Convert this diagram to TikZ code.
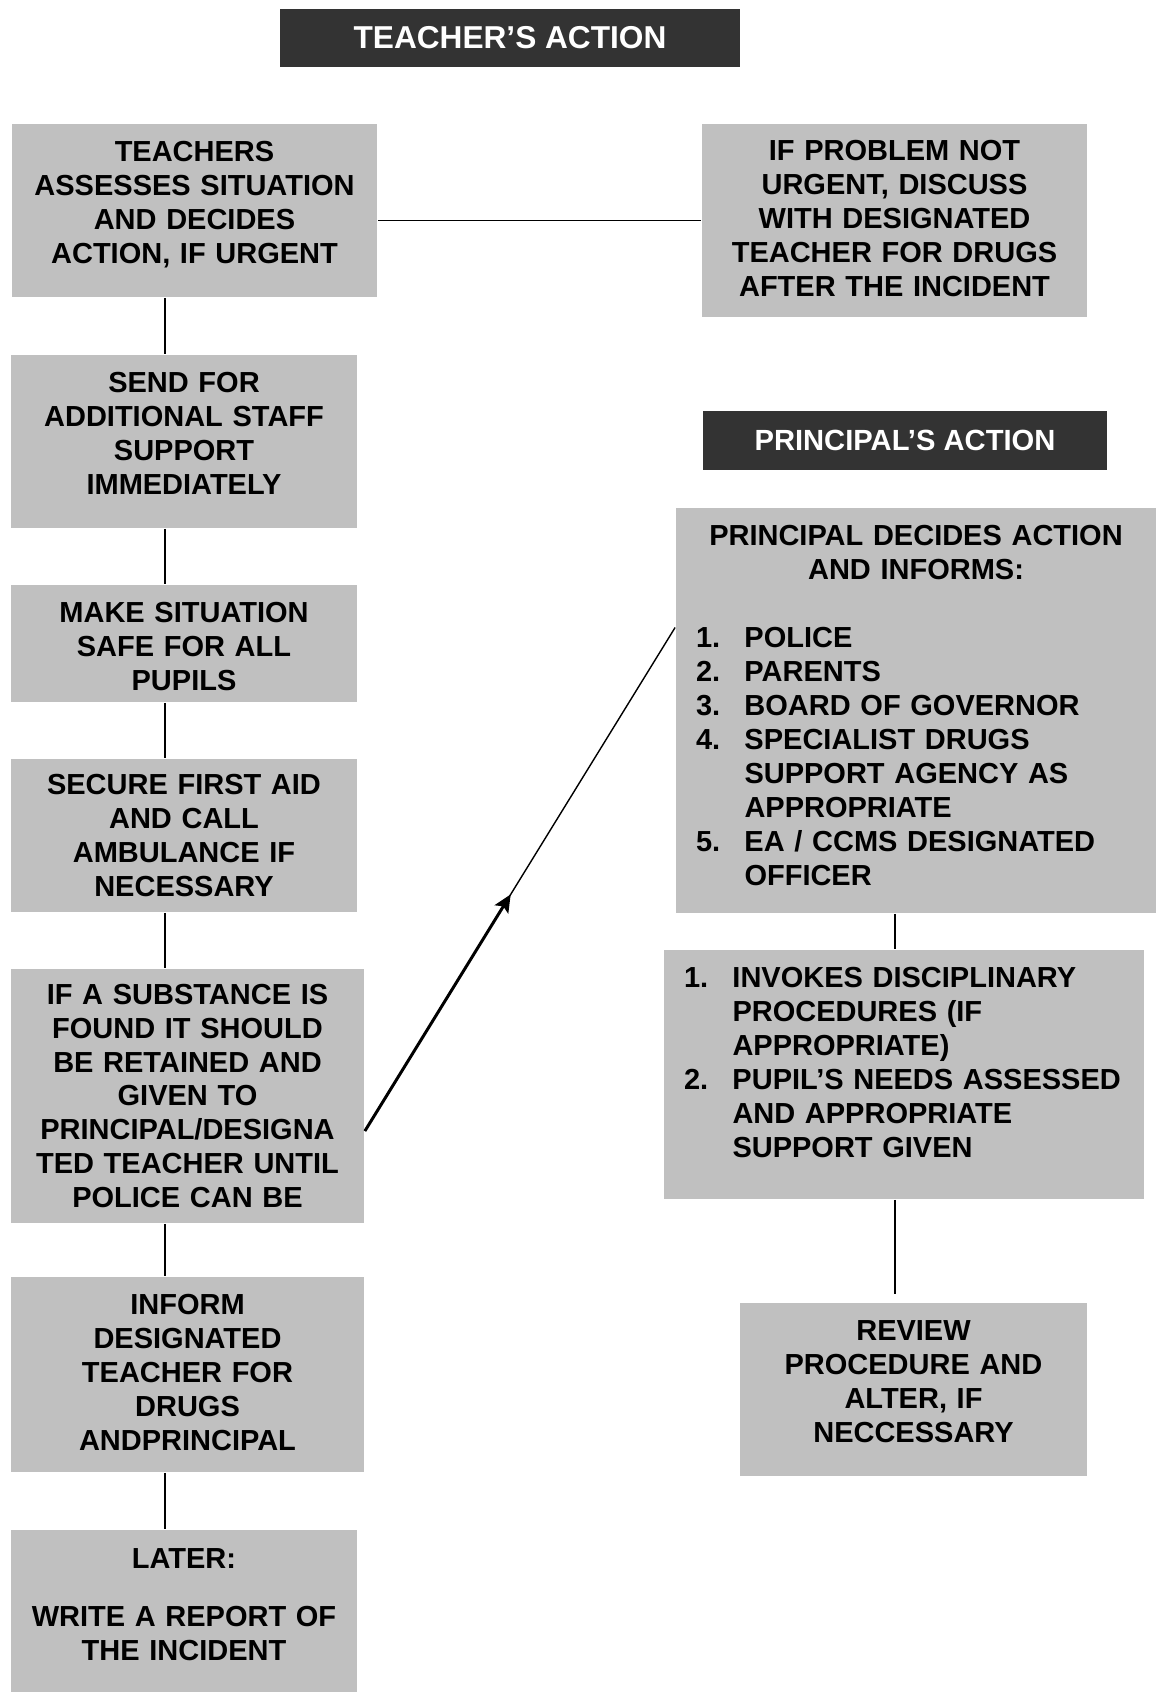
\documentclass[tikz,border=0pt]{standalone}
\usepackage{fontspec}
\setmainfont{Liberation Sans}
\usetikzlibrary{arrows.meta}
\definecolor{boxgray}{RGB}{192,192,192}
\definecolor{headdark}{RGB}{51,51,51}
\begin{document}
\begin{tikzpicture}[>={Stealth[length=10pt,width=9pt,inset=2pt]}, line width=1pt,
    font=\fontsize{16.5}{19.3}\selectfont\bfseries,
    stepbox/.style 2 args={fill=boxgray, inner sep=0pt, text width=#1cm, minimum height=#2cm, align=center},
    listbox/.style 2 args={fill=boxgray, inner ysep=0pt, inner xsep=0.4cm, text width=#1cm, minimum height=#2cm, align=left},
    head/.style 2 args={fill=headdark, text=white, inner sep=0pt, minimum width=#1cm, minimum height=#2cm}]
\useasboundingbox (0,0) rectangle (23.12,-33.84);

% Headings
\node[head={9.2}{1.16}, font=\fontsize{18}{21}\selectfont\bfseries] (TH) at (10.2,-0.76) {TEACHER’S ACTION};
\node[head={8.08}{1.18}, font=\fontsize{16.6}{19.3}\selectfont\bfseries] (PH) at (18.1,-8.81) {PRINCIPAL’S ACTION};

% Teacher's column
\node[stepbox={7.3}{3.46}, text height=5.2pt]  (B1) at (3.89,-4.21)  {TEACHERS\\ASSESSES SITUATION\\AND DECIDES\\ACTION, IF URGENT};
\node[stepbox={6.92}{3.46}, text height=2.2pt] (B2) at (3.68,-8.83)  {SEND FOR\\ADDITIONAL STAFF\\SUPPORT\\IMMEDIATELY};
\node[stepbox={6.92}{2.34}, text height=15pt]  (B3) at (3.68,-12.87) {MAKE SITUATION\\SAFE FOR ALL\\PUPILS};
\node[stepbox={6.92}{3.06}] (B4) at (3.68,-16.71) {SECURE FIRST AID\\AND CALL\\AMBULANCE IF\\NECESSARY};
\node[stepbox={7.06}{5.08}] (B5) at (3.75,-21.92) {IF A SUBSTANCE IS\\FOUND IT SHOULD\\BE RETAINED AND\\GIVEN TO\\PRINCIPAL/DESIGNA\\TED TEACHER UNTIL\\POLICE CAN BE};
\node[stepbox={7.06}{3.9}, text height=9pt]    (B6) at (3.75,-27.49) {INFORM\\DESIGNATED\\TEACHER FOR\\DRUGS\\ANDPRINCIPAL};
\node[stepbox={6.92}{3.24}, text height=4.6pt] (B7) at (3.68,-32.22) {LATER:\\[13.7pt]WRITE A REPORT OF\\THE INCIDENT};

\node[stepbox={7.7}{3.86}, text height=9.6pt]  (R1) at (17.89,-4.41) {IF PROBLEM NOT\\URGENT, DISCUSS\\WITH DESIGNATED\\TEACHER FOR DRUGS\\AFTER THE INCIDENT};

% Principal's column
\node[listbox={8.8}{8.1}] (P1) at (18.32,-14.21) {%
  \makebox[8.8cm]{PRINCIPAL DECIDES ACTION}\\
  \makebox[8.8cm]{AND INFORMS:}\\[19.3pt]
  \begin{tabular}[t]{@{}p{0.97cm}@{}l@{}}
  1. & POLICE\\
  2. & PARENTS\\
  3. & BOARD OF GOVERNOR\\
  4. & SPECIALIST DRUGS\\
     & SUPPORT AGENCY AS\\
     & APPROPRIATE\\
  5. & EA / CCMS DESIGNATED\\
     & OFFICER
  \end{tabular}};
\node[listbox={8.8}{4.98}, text depth=15.7pt] (P2) at (18.08,-21.49) {%
  \begin{tabular}[b]{@{}p{0.97cm}@{}l@{}}
  1. & INVOKES DISCIPLINARY\\
     & PROCEDURES (IF\\
     & APPROPRIATE)\\
  2. & PUPIL’S NEEDS ASSESSED\\
     & AND APPROPRIATE\\
     & SUPPORT GIVEN
  \end{tabular}};
\node[stepbox={6.94}{3.46}, text height=2.8pt] (P3) at (18.27,-27.79) {REVIEW\\PROCEDURE AND\\ALTER, IF\\NECCESSARY};

% Connectors
\coordinate (spine) at (3.3,0);
\coordinate (pline) at (17.9,0);
\draw (B1.south -| spine) -- (B2.north -| spine);
\draw (B2.south -| spine) -- (B3.north -| spine);
\draw (B3.south -| spine) -- (B4.north -| spine);
\draw (B4.south -| spine) -- (B5.north -| spine);
\draw (B5.south -| spine) -- (B6.north -| spine);
\draw (B6.south -| spine) -- (B7.north -| spine);
\draw (R1.west) -- (R1.west -| B1.east);

% Substance handed over -> principal
\coordinate (from) at ([yshift=-0.7cm]B5.east);
\coordinate (to) at ([yshift=1.66cm]P1.west);
\draw[line width=0.8pt] (from) -- (to) coordinate[pos=0.47] (tip);
\draw[->, line width=1.7pt] (from) -- (tip);

\coordinate (p3top) at ([yshift=0.16cm]P3.north);
\draw (P1.south -| pline) -- (P2.north -| pline);
\draw (P2.south -| pline) -- (p3top -| pline);

\end{tikzpicture}
\end{document}
